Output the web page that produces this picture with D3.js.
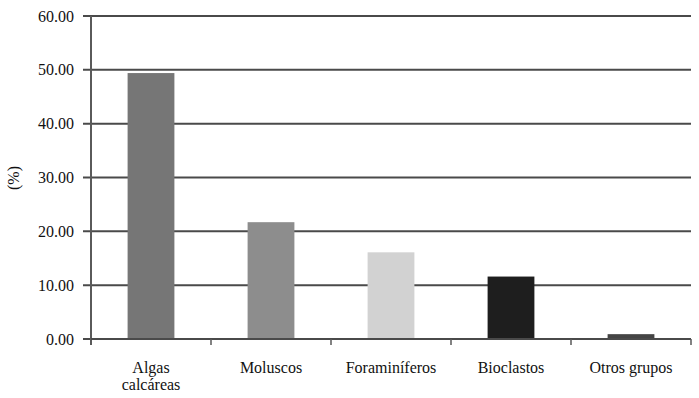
<!DOCTYPE html>
<html>
<head>
<meta charset="utf-8">
<script src="https://cdn.jsdelivr.net/npm/d3@7"></script>
<style>
  body { margin: 0; background: #fff; }
  svg { display: block; }
  text { font-family: "Liberation Serif", "DejaVu Serif", serif; fill: #111; }
</style>
</head>
<body>
<svg id="chart" width="699" height="398"></svg>
<script>
'use strict';
// data
var categories = [["Algas", "calcáreas"], ["Moluscos"], ["Foraminíferos"], ["Bioclastos"], ["Otros grupos"]];
var values = [49.4, 21.7, 16.1, 11.6, 0.9];
var barColors = ["#767676", "#8d8d8d", "#d2d2d2", "#1e1e1e", "#444444"];
var yTicks = [0, 10, 20, 30, 40, 50, 60];

var svg = d3.select("#chart");
var margin = {top: 16, right: 8, bottom: 59, left: 91};
var height = 398 - margin.top - margin.bottom;
var plotW = 600;

var keys = categories.map(function(c){ return c.join(" "); });

var x = d3.scaleBand()
  .domain(keys)
  .range([0, plotW])
  .paddingInner(0.61)
  .paddingOuter(0.305);

var y = d3.scaleLinear()
  .domain([0, 60])
  .range([height, 0]);

var g = svg.append("g")
  .attr("transform", "translate(" + margin.left + "," + margin.top + ")");

// gridlines
g.selectAll("line.grid")
  .data(yTicks)
  .enter().append("line")
    .attr("class", "grid")
    .attr("x1", -8)
    .attr("x2", plotW)
    .attr("y1", function(d){ return y(d); })
    .attr("y2", function(d){ return y(d); })
    .attr("stroke", "#4a4a4a")
    .attr("stroke-width", 2);

// y labels
g.selectAll("text.ytick")
  .data(yTicks)
  .enter().append("text")
    .attr("class", "ytick")
    .attr("x", -17)
    .attr("y", function(d){ return y(d); })
    .attr("dy", "0.35em")
    .attr("text-anchor", "end")
    .style("font-size", "16px")
    .text(function(d){ return d3.format(".2f")(d); });

// bars
g.selectAll("rect.bar")
  .data(values)
  .enter().append("rect")
    .attr("class", "bar")
    .attr("x", function(d, i){ return x(keys[i]); })
    .attr("width", x.bandwidth())
    .attr("y", function(d){ return y(d); })
    .attr("height", function(d){ return height - y(d); })
    .attr("fill", function(d, i){ return barColors[i]; });

// axes lines
g.append("line")
  .attr("x1", 0).attr("x2", 0)
  .attr("y1", 0).attr("y2", height + 6)
  .attr("stroke", "#5a5a5a").attr("stroke-width", 2);

g.append("line")
  .attr("x1", 0).attr("x2", plotW)
  .attr("y1", height).attr("y2", height)
  .attr("stroke", "#4a4a4a").attr("stroke-width", 2);

// category tick marks between bands
g.selectAll("line.xtick")
  .data(keys)
  .enter().append("line")
    .attr("class", "xtick")
    .attr("x1", function(k){ return x(k) + x.bandwidth() / 2 + x.step() / 2; })
    .attr("x2", function(k){ return x(k) + x.bandwidth() / 2 + x.step() / 2; })
    .attr("y1", height)
    .attr("y2", height + 6)
    .attr("stroke", "#5a5a5a").attr("stroke-width", 1.5);

// category labels
var labels = g.selectAll("text.xlab")
  .data(categories)
  .enter().append("text")
    .attr("class", "xlab")
    .attr("text-anchor", "middle")
    .style("font-size", "16px")
    .attr("transform", function(d, i){
      return "translate(" + (x(keys[i]) + x.bandwidth() / 2) + "," + (height + 34) + ")";
    });

labels.selectAll("tspan")
  .data(function(d){ return d; })
  .enter().append("tspan")
    .attr("x", 0)
    .attr("dy", function(d, i){ return i === 0 ? 0 : 17; })
    .text(function(d){ return d; });

// y axis title
svg.append("text")
  .attr("transform", "translate(19,178) rotate(-90)")
  .attr("text-anchor", "middle")
  .style("font-size", "16px")
  .text("(%)");
</script>
</body>
</html>
